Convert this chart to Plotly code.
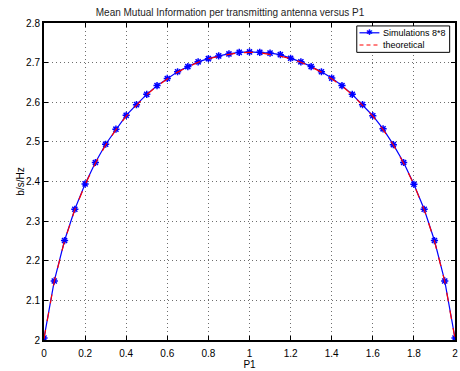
import plotly.graph_objects as go

p1 = [0.0, 0.05, 0.1, 0.15, 0.2, 0.25, 0.3, 0.35, 0.4, 0.45, 0.5, 0.55, 0.6, 0.65, 0.7,
      0.75, 0.8, 0.85, 0.9, 0.95, 1.0, 1.05, 1.1, 1.15, 1.2, 1.25, 1.3, 1.35, 1.4, 1.45,
      1.5, 1.55, 1.6, 1.65, 1.7, 1.75, 1.8, 1.85, 1.9, 1.95, 2.0]
sim = [2.005, 2.149, 2.251, 2.330, 2.394, 2.448, 2.494, 2.532, 2.567, 2.594, 2.620,
       2.642, 2.660, 2.677, 2.690, 2.702, 2.710, 2.717, 2.722, 2.726, 2.727, 2.726,
       2.724, 2.720, 2.711, 2.702, 2.690, 2.677, 2.661, 2.642, 2.620, 2.594, 2.566,
       2.533, 2.493, 2.448, 2.393, 2.330, 2.251, 2.149, 2.005]
theo = [2.003, 2.148, 2.250, 2.329, 2.392, 2.446, 2.492, 2.531, 2.565, 2.593, 2.619,
        2.641, 2.659, 2.676, 2.689, 2.701, 2.710, 2.716, 2.721, 2.725, 2.726, 2.725,
        2.721, 2.716, 2.710, 2.701, 2.689, 2.676, 2.659, 2.641, 2.619, 2.593, 2.565,
        2.531, 2.492, 2.446, 2.392, 2.329, 2.250, 2.148, 2.003]
series_names = ["Simulations 8*8", "theoretical"]
xticks = [0, 0.2, 0.4, 0.6, 0.8, 1, 1.2, 1.4, 1.6, 1.8, 2]
xlabels = ["0", "0.2", "0.4", "0.6", "0.8", "1", "1.2", "1.4", "1.6", "1.8", "2"]
yticks = [2, 2.1, 2.2, 2.3, 2.4, 2.5, 2.6, 2.7, 2.8]
ylabels = ["2", "2.1", "2.2", "2.3", "2.4", "2.5", "2.6", "2.7", "2.8"]

BLUE = "rgb(0,0,255)"
RED = "rgb(255,0,0)"

fig = go.Figure()
fig.add_trace(go.Scatter(
    x=p1, y=sim, mode="lines+markers", name=series_names[0], showlegend=False,
    line=dict(color=BLUE, width=1.2),
    marker=dict(symbol="asterisk-open", size=6, color=BLUE,
                line=dict(color=BLUE, width=1.5)),
))
fig.add_trace(go.Scatter(
    x=p1, y=theo, mode="lines", name=series_names[1], showlegend=False,
    line=dict(color=RED, width=1.2, dash="dash"),
))

axis_common = dict(
    showline=True, linecolor="black", linewidth=2, mirror="ticks",
    ticks="inside", ticklen=4, tickcolor="black", tickwidth=1,
    showgrid=True, gridcolor="rgb(110,110,110)", gridwidth=1, griddash="1px,3px",
    zeroline=False, tickfont=dict(size=10, color="black"),
)
fig.update_xaxes(range=[0, 2], tickvals=xticks, ticktext=xlabels, ticklabelstandoff=3,
                 title=dict(text="P1", font=dict(size=10, color="black"), standoff=2),
                 **axis_common)
fig.update_yaxes(range=[2, 2.8], tickvals=yticks, ticktext=ylabels,
                 title=dict(text="b/s/Hz", font=dict(size=10, color="black"), standoff=0),
                 **axis_common)

# compact MATLAB-style legend
lx0, lx1, ly0, ly1 = 0.761, 0.987, 0.9074, 0.9907
rows = [0.9691, 0.9306]
sx0, sx1, sxm, tx = 0.7676, 0.816, 0.7918, 0.823
shapes = [
    dict(type="rect", xref="paper", yref="paper", x0=lx0, x1=lx1, y0=ly0, y1=ly1,
         line=dict(color="black", width=1), fillcolor="white", layer="above"),
    dict(type="line", xref="paper", yref="paper", x0=sx0, x1=sx1, y0=rows[0], y1=rows[0],
         line=dict(color=BLUE, width=1.2), layer="above"),
    dict(type="line", xref="paper", yref="paper", x0=sx0, x1=sx1, y0=rows[1], y1=rows[1],
         line=dict(color=RED, width=1.2, dash="4px,3px"), layer="above"),
]
annotations = [
    dict(text=series_names[0], xref="paper", yref="paper", x=tx, y=rows[0],
         xanchor="left", yanchor="middle", showarrow=False, borderpad=0,
         font=dict(size=9, color="black")),
    dict(text=series_names[1], xref="paper", yref="paper", x=tx, y=rows[1],
         xanchor="left", yanchor="middle", showarrow=False, borderpad=0,
         font=dict(size=9, color="black")),
    dict(text="✱", xref="paper", yref="paper", x=sxm, y=rows[0],
         xanchor="center", yanchor="middle", showarrow=False, borderpad=0,
         font=dict(size=8, color=BLUE, family="DejaVu Sans")),
]

fig.update_layout(
    width=460, height=371,
    margin=dict(l=44, r=3, t=23, b=24),
    paper_bgcolor="white", plot_bgcolor="white",
    font=dict(family="Liberation Sans, Arial, sans-serif", size=10, color="black"),
    title=dict(text="Mean Mutual Information per transmitting antenna versus P1",
               x=0.5, xanchor="center", y=0.965, yanchor="middle",
               font=dict(size=10, color="rgb(30,30,30)")),
    shapes=shapes, annotations=annotations,
    showlegend=False,
)

fig.write_html("out.html")
